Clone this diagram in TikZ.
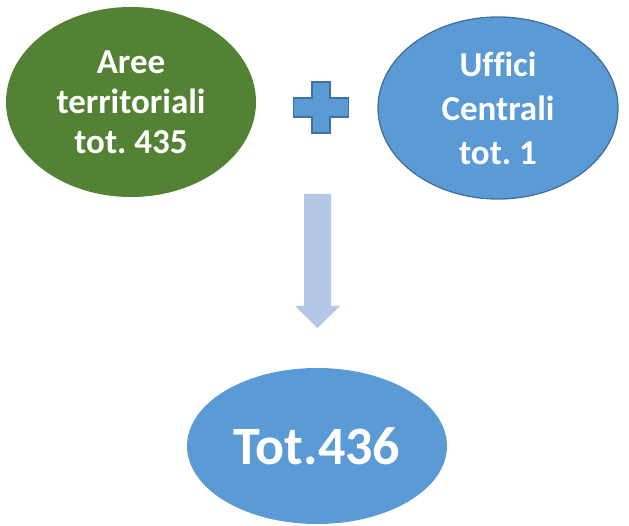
\documentclass[tikz,border=0pt]{standalone}
\usepackage{fontspec}
\setmainfont{Carlito}[Ligatures=NoCommon]
\frenchspacing
\usetikzlibrary{shapes.geometric}
\definecolor{grn}{HTML}{548235}
\definecolor{blu}{HTML}{5B9BD5}
\definecolor{bluedge}{HTML}{41719C}
\definecolor{lblu}{HTML}{B4C7E7}
\tikzset{
  oval/.style={ellipse, inner sep=0pt, text=white, font=\bfseries, align=center},
}
\begin{document}
\begin{tikzpicture}[x=1pt,y=-1pt]
\useasboundingbox (0,0) rectangle (629,526);
\node[oval, fill=grn, minimum width=250pt, minimum height=190pt,
      font=\fontsize{35}{40}\selectfont\bfseries\frenchspacing] (aree) at (131,102) {Aree\\territoriali\\tot. 435};
\node[oval, fill=blu, draw=bluedge, line width=1.3pt, minimum width=240pt, minimum height=182pt,
      font=\fontsize{35}{44}\selectfont\bfseries\frenchspacing] (uff) at (498,108) {Uffici\\Centrali\\tot. 1};
\node[oval, fill=blu, minimum width=260pt, minimum height=156pt,
      font=\fontsize{54}{60}\selectfont\bfseries] (tot) at (317,446) {Tot.436};
% plus sign
\coordinate (plus) at (321,107.5);
\draw[fill=blu, draw=bluedge, line width=1.3pt]
  ([shift={(-9,-25.5)}]plus) -- ([shift={(9,-25.5)}]plus) -- ([shift={(9,-9.5)}]plus)
  -- ([shift={(27.5,-9.5)}]plus) -- ([shift={(27.5,9.5)}]plus) -- ([shift={(9,9.5)}]plus)
  -- ([shift={(9,25.5)}]plus) -- ([shift={(-9,25.5)}]plus) -- ([shift={(-9,9.5)}]plus)
  -- ([shift={(-27.5,9.5)}]plus) -- ([shift={(-27.5,-9.5)}]plus) -- ([shift={(-9,-9.5)}]plus) -- cycle;
% block arrow
\coordinate (arr) at (317.5,194);
\fill[lblu]
  ([shift={(-13.5,0)}]arr) -- ([shift={(13.5,0)}]arr) -- ([shift={(13.5,112)}]arr)
  -- ([shift={(22.5,112)}]arr) -- ([shift={(0,134)}]arr) -- ([shift={(-22.5,112)}]arr)
  -- ([shift={(-13.5,112)}]arr) -- cycle;
\end{tikzpicture}
\end{document}
